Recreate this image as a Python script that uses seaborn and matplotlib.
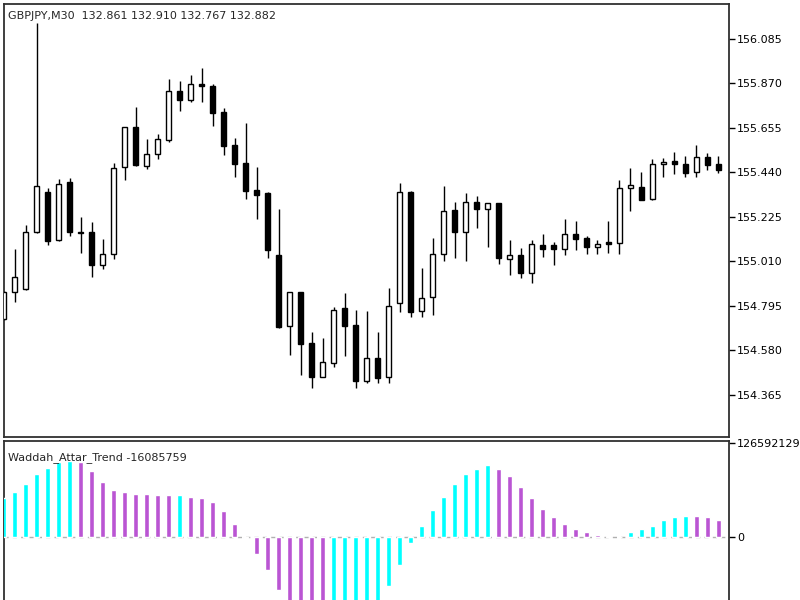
import matplotlib
matplotlib.use("Agg")
import matplotlib.pyplot as plt
import seaborn as sns
import numpy as np
import pandas as pd

# GBPJPY M30 candles
opens = [154.732, 154.861, 154.877, 155.153, 155.347, 155.113, 155.393, 155.154, 155.154, 154.992,
         155.045, 155.465, 155.660, 155.471, 155.529, 155.596, 155.835, 155.789, 155.866, 155.859,
         155.734, 155.573, 155.487, 155.356, 155.342, 155.042, 154.700, 154.861, 154.615, 154.454,
         154.521, 154.784, 154.703, 154.434, 154.542, 154.451, 154.808, 155.347, 154.772, 154.840,
         155.046, 155.260, 155.153, 155.299, 155.264, 155.294, 155.021, 155.042, 154.953, 155.088,
         155.088, 155.072, 155.142, 155.122, 155.079, 155.104, 155.101, 155.364, 155.371, 155.311,
         155.480, 155.494, 155.480, 155.444, 155.514, 155.481]
highs = [154.868, 155.069, 155.186, 156.164, 155.364, 155.407, 155.412, 155.227, 155.202, 155.120,
         155.487, 155.661, 155.758, 155.600, 155.625, 155.892, 155.881, 155.911, 155.945, 155.868,
         155.750, 155.608, 155.681, 155.468, 155.347, 155.262, 154.863, 154.863, 154.671, 154.639,
         154.789, 154.857, 154.776, 154.772, 154.671, 154.882, 155.388, 155.350, 154.977, 155.122,
         155.376, 155.299, 155.340, 155.328, 155.294, 155.294, 155.114, 155.074, 155.114, 155.142,
         155.103, 155.214, 155.207, 155.135, 155.114, 155.207, 155.404, 155.460, 155.444, 155.504,
         155.512, 155.541, 155.521, 155.573, 155.533, 155.521]
lows = [154.728, 154.813, 154.872, 155.150, 155.090, 155.110, 155.135, 155.053, 154.937, 154.972,
        155.021, 155.404, 155.471, 155.456, 155.504, 155.589, 155.736, 155.782, 155.782, 155.665,
        155.525, 155.417, 155.311, 155.215, 155.026, 154.689, 154.558, 154.462, 154.400, 154.452,
        154.502, 154.554, 154.398, 154.422, 154.422, 154.425, 154.768, 154.743, 154.743, 154.752,
        155.014, 155.026, 155.014, 155.171, 155.079, 154.998, 154.945, 154.932, 154.905, 155.030,
        154.993, 155.042, 155.066, 155.046, 155.046, 155.053, 155.046, 155.256, 155.305, 155.307,
        155.417, 155.433, 155.420, 155.420, 155.452, 155.436]
closes = [154.863, 154.934, 155.154, 155.373, 155.111, 155.386, 155.151, 155.146, 154.992, 155.046,
          155.460, 155.660, 155.476, 155.531, 155.600, 155.834, 155.790, 155.866, 155.859, 155.729,
          155.570, 155.483, 155.349, 155.330, 155.066, 154.695, 154.861, 154.612, 154.454, 154.523,
          154.776, 154.700, 154.434, 154.542, 154.446, 154.795, 155.347, 154.765, 154.835, 155.048,
          155.254, 155.151, 155.299, 155.264, 155.294, 155.026, 155.040, 154.953, 155.095, 155.072,
          155.072, 155.142, 155.117, 155.079, 155.095, 155.095, 155.367, 155.380, 155.307, 155.480,
          155.492, 155.480, 155.439, 155.514, 155.476, 155.452]

# Waddah Attar Trend histogram (millions)
wat_values = [51.7, 59.8, 71, 84, 93, 100, 102, 100, 89, 74, 63, 60, 58, 57.5, 56, 55.8, 56.3, 54,
              52, 47, 34, 17, -2, -23, -45, -72, -98, -115, -125, -130, -127, -120, -110, -100,
              -88, -67, -38, -9, 15, 36, 54, 71, 84, 91, 97, 91, 82, 67, 52, 37, 26, 17, 11, 6, 2,
              0.6, 0.2, 6, 10, 15, 22, 26, 28.3, 27.8, 26, 22]

price_ticks = [156.085, 155.870, 155.655, 155.440, 155.225, 155.010, 154.795, 154.580, 154.365]
wat_top = 126592129
header = "GBPJPY,M30  132.861 132.910 132.767 132.882"
wat_label = "Waddah_Attar_Trend -16085759"

sns.set_style("white")
plt.rcParams['font.family'] = ['DejaVu Sans']

n = len(opens)
idx = np.arange(n)
o = np.array(opens)
c = np.array(closes)
h = np.array(highs)
l = np.array(lows)

fig = plt.figure(figsize=(8, 6), dpi=100)
ax = fig.add_axes([0.005, 0.2717, 0.906, 0.7216])
ax2 = fig.add_axes([0.005, 0.0, 0.906, 0.265])

# candles
bull = c >= o
ax.vlines(idx, l, h, color='black', lw=1.0, zorder=2)
ax.bar(idx, np.maximum(np.abs(c - o), 0.002), bottom=np.minimum(o, c), width=0.42,
       color=np.where(bull, 'white', 'black'), edgecolor='black', linewidth=1.0, zorder=3)
ax.set_xlim(0.03, 65.94)
ax.set_ylim(154.162, 156.254)
ax.set_xticks([])
ax.yaxis.tick_right()
ax.set_yticks(price_ticks)
ax.set_yticklabels([f"{t:.3f}" for t in price_ticks])
ax.text(0.006, 0.983, header, transform=ax.transAxes, fontsize=8, va='top', ha='left')

# indicator histogram
vals = np.array(wat_values) * 1e6
trend = ['up'] + ['up' if vals[i] > vals[i - 1] else 'down' for i in range(1, n)]
df = pd.DataFrame({'bar': idx, 'value': vals, 'trend': trend})
sns.barplot(data=df, x='bar', y='value', hue='trend', dodge=False, width=0.46,
            palette={'up': '#00ffff', 'down': '#ba55d3'}, errorbar=None,
            legend=False, saturation=1, ax=ax2, zorder=3)
ax2.axhline(0, color='#b0b0b0', lw=1.0, ls=(0, (3, 3)), zorder=2)
ax2.set_xlim(0.03, 65.94)
ax2.set_ylim(-85.3e6, 128.9e6)
ax2.set_xticks([])
ax2.set_xlabel('')
ax2.set_ylabel('')
ax2.yaxis.tick_right()
ax2.set_yticks([wat_top, 0])
ax2.set_yticklabels([str(wat_top), '0'])
ax2.text(0.005, 0.93, wat_label, transform=ax2.transAxes, fontsize=8, va='top', ha='left')

for a in (ax, ax2):
    a.tick_params(axis='y', direction='out', length=4, width=1, pad=2, labelsize=8,
                  colors='black', right=True, left=False)
    for s in a.spines.values():
        s.set_color('#303030')
        s.set_linewidth(1.3)
ax2.spines['bottom'].set_visible(False)

fig.savefig("out.png", dpi=100)
